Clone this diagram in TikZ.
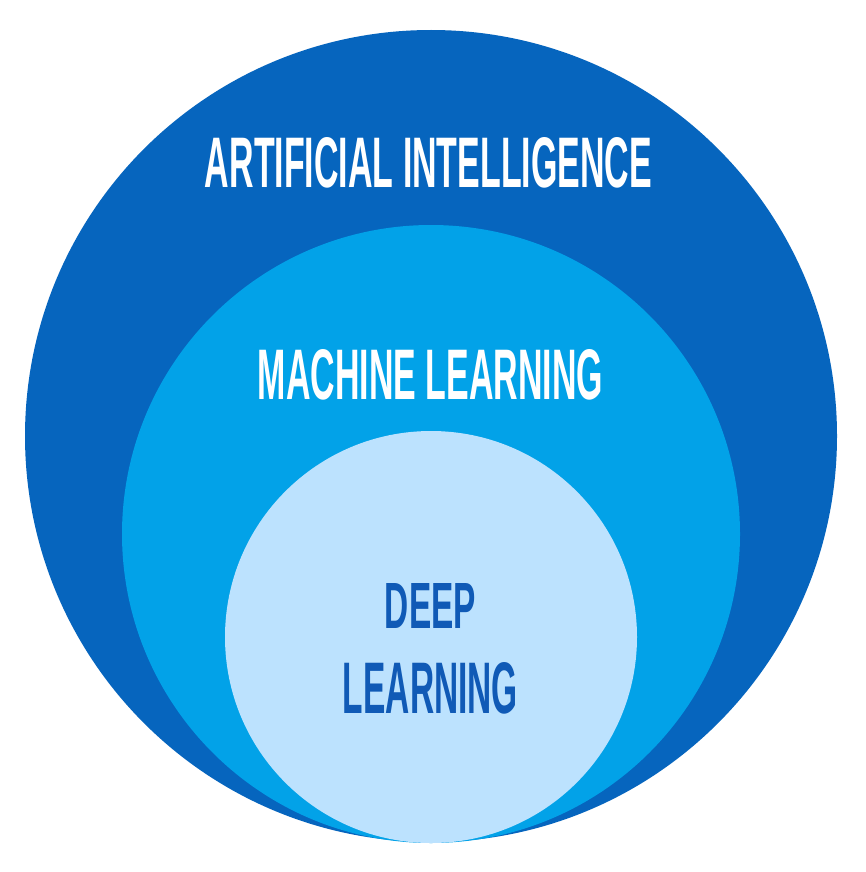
\documentclass[tikz,border=0pt]{standalone}
\usepackage{fontspec}
\setmainfont{Liberation Sans}
\usepackage{graphicx}
\definecolor{aiblue}{RGB}{6,101,190}
\definecolor{mlblue}{RGB}{2,162,232}
\definecolor{dlblue}{RGB}{188,226,254}
\definecolor{dltext}{RGB}{16,90,182}
\newcommand{\fitlabel}[3]{\resizebox{#1pt}{#2pt}{\bfseries #3}}
\begin{document}
\begin{tikzpicture}[x=1pt, y=-1pt,
    ring/.style={circle, inner sep=0pt, draw=none},
    label/.style={inner sep=0pt, text=white}
]
\useasboundingbox[fill=white] (0,0) rectangle (865,872);

% Nested circles
\node[ring, fill=aiblue, minimum size=812pt] (ai) at (431,436) {};
\node[ring, fill=mlblue, minimum size=618pt] (ml) at (431,534) {};
\node[ring, fill=dlblue, minimum size=412pt] (dl) at (431,637) {};

% Labels
\node[label] (ailabel) at (428.5,163) {\fitlabel{447}{50}{ARTIFICIAL INTELLIGENCE}};
\node[label] (mllabel) at (430.5,375) {\fitlabel{345}{50}{MACHINE LEARNING}};
\node[label, text=dltext] (deep) at (430.5,605.5) {\fitlabel{91}{45}{DEEP}};
\node[label, text=dltext] (learning) at (430.5,688.5) {\fitlabel{175}{51}{LEARNING}};

\end{tikzpicture}
\end{document}
